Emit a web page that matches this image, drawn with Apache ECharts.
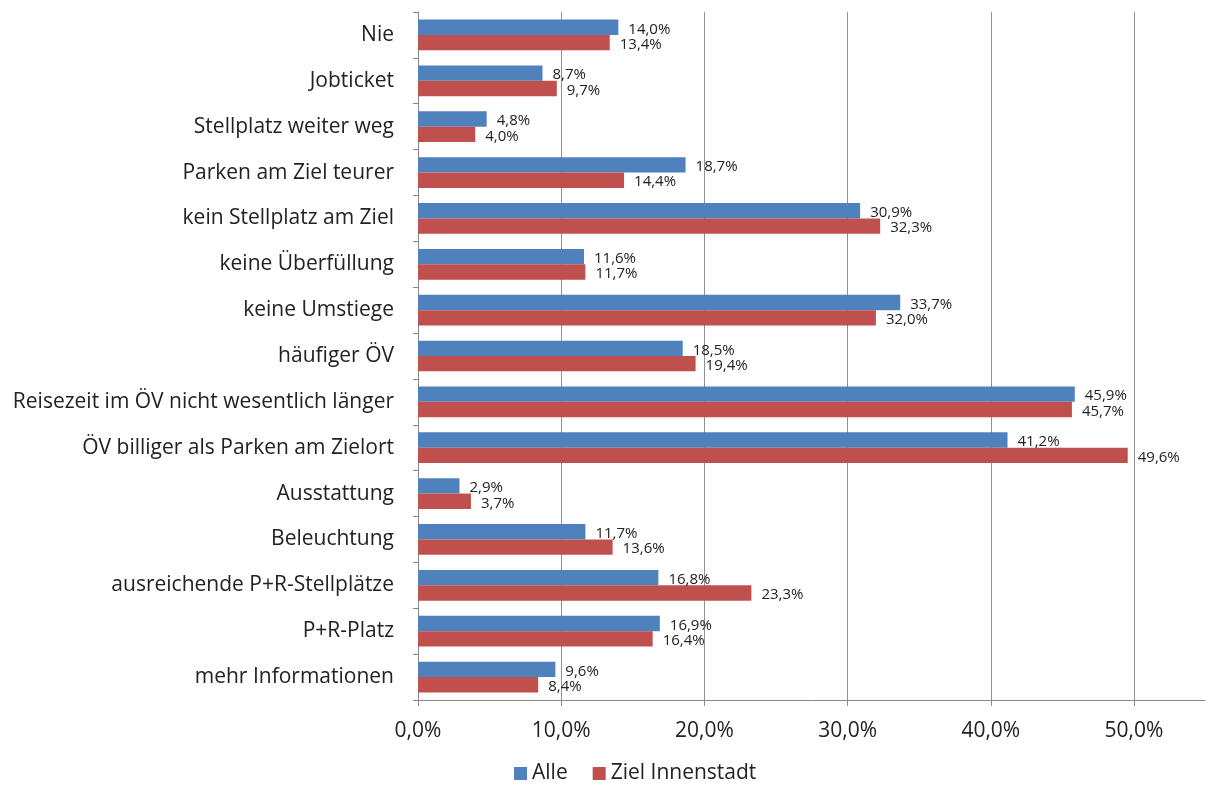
<!DOCTYPE html>
<html>
<head>
<meta charset="utf-8">
<script src="https://cdn.jsdelivr.net/npm/echarts@6/dist/echarts.min.js"></script>
<style>
  html, body { margin: 0; padding: 0; background: #fff; }
  #chart { width: 1208px; height: 785px; }
</style>
</head>
<body>
<div id="chart"></div>
<script>
// Gründe / Voraussetzungen, top to bottom
const categories = [
  'Nie',
  'Jobticket',
  'Stellplatz weiter weg',
  'Parken am Ziel teurer',
  'kein Stellplatz am Ziel',
  'keine Überfüllung',
  'keine Umstiege',
  'häufiger ÖV',
  'Reisezeit im ÖV nicht wesentlich länger',
  'ÖV billiger als Parken am Zielort',
  'Ausstattung',
  'Beleuchtung',
  'ausreichende P+R-Stellplätze',
  'P+R-Platz',
  'mehr Informationen'
];
// Anteile in Prozent
const alle = [14.0, 8.7, 4.8, 18.7, 30.9, 11.6, 33.7, 18.5, 45.9, 41.2, 2.9, 11.7, 16.8, 16.9, 9.6];
const zielInnenstadt = [13.4, 9.7, 4.0, 14.4, 32.3, 11.7, 32.0, 19.4, 45.7, 49.6, 3.7, 13.6, 23.3, 16.4, 8.4];
// Skala der x-Achse
const tickMax = 50;
const tickStep = 10;
const axisMax = 55;

const FONT = '"Open Sans", "DejaVu Sans", sans-serif';
const pct = v => v.toFixed(1).replace('.', ',') + '%';

const chart = echarts.init(document.getElementById('chart'), null, { renderer: 'canvas' });

const gridTop = 12, gridBottom = 85, gridLeft = 418;

const barLabel = {
  show: true,
  position: 'right',
  distance: 10,
  offset: [0, 2],
  fontFamily: FONT,
  fontSize: 15,
  color: '#222',
  formatter: p => pct(p.value)
};

chart.setOption({
  animation: false,
  backgroundColor: '#fff',
  textStyle: { fontFamily: FONT },
  legend: {
    top: 758,
    left: 509,
    itemWidth: 13,
    itemHeight: 13,
    itemGap: 25,
    icon: 'rect',
    textStyle: { fontFamily: FONT, fontSize: 21, color: '#222' },
    data: ['Alle', 'Ziel Innenstadt']
  },
  grid: [
    // scale grid: ticks, labels and gridlines 0–50 %
    { left: gridLeft, right: 1208 - 1134, top: gridTop, bottom: gridBottom },
    // bar grid: axis line runs out past 50 %
    { left: gridLeft, right: 3, top: gridTop, bottom: gridBottom }
  ],
  xAxis: [
    {
      gridIndex: 0,
      type: 'value',
      min: 0,
      max: tickMax,
      interval: tickStep,
      axisLine: { show: false },
      axisTick: { show: true, length: 6, lineStyle: { color: '#888' } },
      splitLine: { show: true, lineStyle: { color: '#929292', width: 1 } },
      axisLabel: {
        margin: 21,
        fontFamily: FONT,
        fontSize: 21,
        color: '#222',
        formatter: v => pct(v)
      }
    },
    {
      gridIndex: 1,
      type: 'value',
      min: 0,
      max: axisMax,
      axisLine: { show: true, lineStyle: { color: '#888', width: 1 } },
      axisTick: { show: false },
      splitLine: { show: false },
      axisLabel: { show: false }
    }
  ],
  yAxis: [
    {
      gridIndex: 0,
      type: 'category',
      data: categories,
      inverse: true,
      show: false
    },
    {
      gridIndex: 1,
      type: 'category',
      data: categories,
      inverse: true,
      axisLine: { show: true, lineStyle: { color: '#888', width: 1 } },
      axisTick: { show: true, length: 5, lineStyle: { color: '#888' } },
      axisLabel: {
        margin: 24,
        fontFamily: FONT,
        fontSize: 21,
        color: '#222'
      }
    }
  ],
  series: [
    {
      name: 'Alle',
      type: 'bar',
      xAxisIndex: 1,
      yAxisIndex: 1,
      data: alle,
      barGap: '0%',
      barCategoryGap: '33%',
      itemStyle: { color: '#4F81BD' },
      label: barLabel
    },
    {
      name: 'Ziel Innenstadt',
      type: 'bar',
      xAxisIndex: 1,
      yAxisIndex: 1,
      data: zielInnenstadt,
      barGap: '0%',
      barCategoryGap: '33%',
      itemStyle: { color: '#C0504D' },
      label: barLabel
    }
  ]
});
</script>
</body>
</html>
